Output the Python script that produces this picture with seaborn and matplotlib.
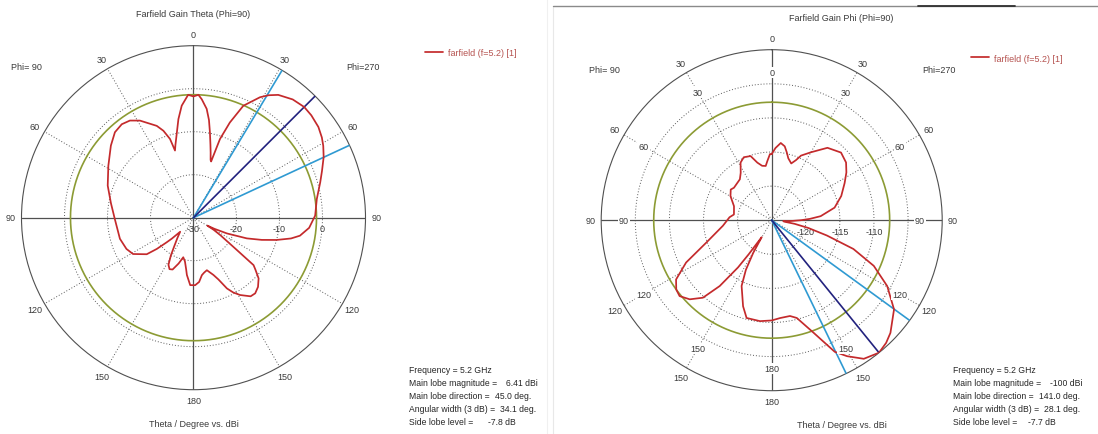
import numpy as np
import matplotlib
matplotlib.use("Agg")
import matplotlib.pyplot as plt
from matplotlib.lines import Line2D
import seaborn as sns

# ---- Farfield gain, Theta component, cut Phi=90 (dBi) ----
# angle: clockwise from the top, 0..180 on the Phi=270 side, 180..360 on the Phi=90 side
theta_cut_angle = [
    0, 2.3, 4, 6.9, 9, 10.9, 13, 14.7, 16.5, 17.4, 18.2, 18.6, 20.9, 24, 28.9, 31.5, 34.6,
    40, 45, 49, 54, 58, 61, 65, 70, 74.4, 81.4, 89, 95, 99.6, 102, 105, 108, 111.2, 115.2,
    118, 119.7, 121, 123, 126.7, 128.3, 130, 133, 137, 140.8, 144, 148.9, 152, 154.7, 158,
    160.8, 165.7, 169, 171.7, 175, 178.6, 182.8, 186.6, 188, 191, 194.5, 198, 202, 205,
    208, 211, 214, 218.5, 223.5, 226, 227.5, 229.6, 232, 239, 245, 254, 269, 280, 290.5,
    301.4, 311.1, 317.4, 322.5, 326.8, 331.1, 338.2, 340.9, 343.4, 344.6, 346, 347.5,
    351.3, 354, 357.5, 360,
]
theta_cut_gain = [
    -1.8, -1.4, -2.4, -4.5, -7.0, -9.8, -12.5, -14.3, -16.0, -16.3, -13.0, -10.7, -6.3,
    -1.5, 2.0, 3.4, 4.7, 5.9, 6.41, 6.3, 5.9, 5.2, 4.5, 3.4, 1.8, 0.6, -1.0, -1.7, -3.0,
    -4.9, -6.8, -10.0, -13.3, -16.7, -21.4, -24.5, -26.3, -24.5, -22.6, -17.4, -12.2,
    -11.2, -9.3, -8.0, -7.3, -7.4, -9.0, -10.3, -11.8, -14.5, -15.9, -17.4, -17.0, -16.5,
    -15.0, -14.3, -14.3, -16.6, -17.8, -19.6, -20.5, -18.8, -17.0, -16.8, -17.6, -19.8,
    -22.0, -24.0, -25.5, -23.0, -21.5, -18.8, -16.2, -13.6, -12.8, -12.2, -11.7, -10.5,
    -8.7, -6.8, -4.5, -3.0, -2.6, -3.0, -4.2, -7.0, -8.6, -10.9, -13.8, -12.6, -11.3,
    -6.8, -3.8, -1.4, -1.8,
]

# ---- Farfield gain, Phi component, cut Phi=90 (dBi) ----
phi_cut_angle = [
    0, 3, 6.7, 10, 12.5, 15, 19, 22, 24.4, 30, 37.6, 45.7, 52.2, 57.4, 63, 70.8, 78.7,
    85.3, 88, 90, 92.5, 95, 97, 99, 102, 105.5, 109.4, 114.1, 119.7, 126.1, 133.5, 137,
    141, 146.4, 151, 154.4, 159.6, 165.6, 169.2, 175.1, 180, 186.6, 194.4, 198.4, 204.6,
    207.5, 209.5, 210.5, 212.5, 214, 215.5, 218.3, 221.6, 226, 230.5, 234, 238.2, 243.7,
    251.2, 263.5, 274, 278.6, 284, 290.4, 300.3, 306.8, 310.7, 316, 322.1, 326.8, 331.6,
    336.1, 341.8, 346, 350, 353.7, 355.8, 358.5, 360,
]
phi_cut_gain = [
    -115.3, -114.4, -113.6, -114.0, -114.8, -115.6, -116.2, -115.5, -114.6, -113.5,
    -111.6, -110.8, -111.2, -112.0, -113.0, -114.2, -115.6, -117.8, -119.4, -120.7,
    -122.2, -123.3, -123.0, -121.6, -119.5, -116.6, -112.3, -108.6, -105.5, -102.8,
    -101.0, -100.4, -100.0, -100.6, -102.2, -103.6, -107.4, -110.2, -110.7, -110.6,
    -110.3, -110.1, -110.2, -111.7, -114.4, -116.8, -119.5, -122.1, -121.0, -119.0,
    -116.5, -112.7, -109.8, -108.3, -107.5, -107.7, -108.5, -111.0, -114.9, -117.8,
    -118.8, -119.4, -119.3, -119.1, -118.0, -117.5, -117.7, -117.6, -117.4, -116.7,
    -115.4, -114.9, -115.1, -116.3, -116.9, -117.0, -116.3, -115.3, -115.3,
]

# summary figures printed under each chart
theta_main_lobe = 6.41
theta_main_dir = 45.0
theta_width = 34.1
theta_side_lobe = -7.8
theta_beam_edges = [31.0, 65.1]

phi_main_lobe = -100.0
phi_main_dir = 141.0
phi_width = 28.1
phi_side_lobe = -7.7
phi_beam_edges = [126.0, 154.1]

# scales and tick labels
theta_rlim = (-30, 10)
theta_rings = [-20, -10, 0]
theta_ring_labels = [-30, -20, -10, 0]
phi_rlim = (-125, -100)
phi_rings = [-120, -115, -110, -105]
phi_ring_labels = [-120, -115, -110]
angle_ticks = [0, 30, 60, 90, 120, 150, 180, 210, 240, 270, 300, 330]

W, H = 1098, 435
RED = "#c42a2c"
GREEN = "#8c9b34"
LIGHT_BLUE = "#2f9ad2"
NAVY = "#22227e"
GRID = "#5a5a5a"
TXT = "#3a3a3a"
FS = 6.5
FS_INFO = 6.2

sns.set_style("white")
plt.rcParams["font.family"] = ["Liberation Sans", "DejaVu Sans"]

fig = plt.figure(figsize=(W / 100, H / 100), dpi=100)
fig.patch.set_facecolor("white")


def fx(px):
    return px / W


def fy(py):
    return 1 - py / H


def polar_axes(cx, cy, radius):
    ax = fig.add_axes([fx(cx - radius), fy(cy + radius), 2 * radius / W, 2 * radius / H],
                      projection="polar")
    ax.set_theta_zero_location("N")
    ax.set_theta_direction(-1)
    ax.grid(False)
    ax.set_xticks([])
    ax.set_yticks([])
    ax.set_facecolor("none")
    ax.spines["polar"].set_color("#505050")
    ax.spines["polar"].set_linewidth(0.8)
    return ax


def angle_text(a):
    return str(a if a <= 180 else 360 - a)


def draw_panel(ax, angles, gains, rlim, rings, main, direction, edges, side_lobe, label_r):
    rmin, rmax = rlim
    ax.set_ylim(rmin, rmax)
    t = np.linspace(0, 2 * np.pi, 721)
    for r in rings:
        ax.plot(t, np.full_like(t, r), ls=(0, (1, 2)), color=GRID, lw=0.7, zorder=1)
    for a in angle_ticks:
        if a % 90:
            ax.plot([np.deg2rad(a)] * 2, [rmin, rmax], ls=(0, (1, 2)), color=GRID, lw=0.7, zorder=1)
        else:
            ax.plot([np.deg2rad(a)] * 2, [rmin, rmax], color="#505050", lw=0.9, zorder=1)
    # side lobe threshold circle
    ax.plot(t, np.full_like(t, main + side_lobe), color=GREEN, lw=1.2, zorder=2)
    # half-power and main lobe direction markers
    for e in edges:
        ax.plot([np.deg2rad(e)] * 2, [rmin, rmax], color=LIGHT_BLUE, lw=1.2, zorder=3)
    ax.plot([np.deg2rad(direction)] * 2, [rmin, rmax], color=NAVY, lw=1.2, zorder=3)
    sns.lineplot(x=np.deg2rad(angles), y=gains, ax=ax, sort=False, estimator=None,
                 color=RED, lw=1.25, zorder=4, label="farfield (f=5.2) [1]")
    ax.set_xlabel("")
    ax.set_ylabel("")
    for a in angle_ticks:
        ax.text(np.deg2rad(a), label_r, angle_text(a), ha="center", va="center",
                fontsize=FS, color=TXT, clip_on=False)
    return ax


# ---------------- left: Theta component ----------------
axL = polar_axes(193.5, 218.7, 172)
draw_panel(axL, theta_cut_angle, theta_cut_gain, theta_rlim, theta_rings,
           theta_main_lobe, theta_main_dir, theta_beam_edges, theta_side_lobe, 12.6)
for v in theta_ring_labels:
    axL.annotate(str(v), xy=(np.pi / 2, v), xytext=(0, -8), textcoords="offset points",
                 ha="center", va="center", fontsize=FS, color=TXT, annotation_clip=False)
axL.legend(loc="center left", bbox_to_anchor=(fx(425), fy(54)), bbox_transform=fig.transFigure,
           frameon=False, fontsize=FS, handlelength=2.0, handletextpad=0.6, borderpad=0,
           borderaxespad=0, labelcolor="#b5524f")

# ---------------- right: Phi component ----------------
axR = polar_axes(771.7, 221.2, 170.5)
draw_panel(axR, phi_cut_angle, phi_cut_gain, phi_rlim, phi_rings,
           phi_main_lobe, phi_main_dir, phi_beam_edges, phi_side_lobe, -98.4)
for a in angle_ticks:
    axR.text(np.deg2rad(a), -103.3, angle_text(a), ha="center", va="center", fontsize=FS,
             color=TXT, zorder=5, bbox=dict(boxstyle="square,pad=0.12", fc="white", ec="none"))
for v in phi_ring_labels:
    axR.annotate(str(v), xy=(np.pi / 2, v), xytext=(0, -8), textcoords="offset points",
                 ha="center", va="center", fontsize=FS, color=TXT, annotation_clip=False)
axR.legend(loc="center left", bbox_to_anchor=(fx(971), fy(59)), bbox_transform=fig.transFigure,
           frameon=False, fontsize=FS, handlelength=2.0, handletextpad=0.6, borderpad=0,
           borderaxespad=0, labelcolor="#b5524f")

# ---------------- titles and captions ----------------
fig.text(fx(193.5), fy(14.5), "Farfield Gain Theta (Phi=90)", ha="center", va="center", fontsize=FS, color=TXT)
fig.text(fx(841), fy(18.5), "Farfield Gain Phi (Phi=90)", ha="center", va="center", fontsize=FS, color=TXT)
fig.text(fx(193.7), fy(425), "Theta / Degree vs. dBi", ha="center", va="center", fontsize=FS, color=TXT)
fig.text(fx(842), fy(425.5), "Theta / Degree vs. dBi", ha="center", va="center", fontsize=FS, color=TXT)
for x, y, s in [(26.7, 67.7, "Phi= 90"), (362.8, 67.7, "Phi=270"),
                (604.5, 70.7, "Phi= 90"), (939, 70.7, "Phi=270")]:
    fig.text(fx(x), fy(y), s, ha="center", va="center", fontsize=FS, color=TXT)

# ---------------- result summaries ----------------
info_rows = [371, 384, 397, 410, 423]
info_names = ["Frequency = 5.2 GHz", "Main lobe magnitude =", "Main lobe direction =",
              "Angular width (3 dB) =", "Side lobe level ="]
theta_info = [None, f"{theta_main_lobe:.2f} dBi", f"{theta_main_dir:.1f} deg.",
              f"{theta_width:.1f} deg.", f"{theta_side_lobe:.1f} dB"]
phi_info = [None, f"{phi_main_lobe:.0f} dBi", f"{phi_main_dir:.1f} deg.",
            f"{phi_width:.1f} deg.", f"{phi_side_lobe:.1f} dB"]
theta_value_x = [None, 506, 482, 498, 488]
phi_value_x = [None, 1050, 1019, 1037, 1028]

renderer = fig.canvas.get_renderer()
for x0, vals, vx in [(409, theta_info, theta_value_x), (953, phi_info, phi_value_x)]:
    for y, name, val, x1 in zip(info_rows, info_names, vals, vx):
        t = fig.text(fx(x0), fy(y), name, ha="left", va="center", fontsize=FS_INFO, color="#262626")
        if val is not None:
            # keep the value clear of its caption
            right_edge = t.get_window_extent(renderer).x1
            xv = max(x1, right_edge + 5)
            fig.text(xv / W, fy(y), val, ha="left", va="center", fontsize=FS_INFO, color="#262626")

# panel frame lines
fig.add_artist(Line2D([fx(547), fx(547)], [0, 1], color="#f0f0f0", lw=0.8))
fig.add_artist(Line2D([fx(553), fx(553)], [0, fy(6.5)], color="#e8e8e8", lw=0.8))
fig.add_artist(Line2D([fx(553), 1], [fy(6.5), fy(6.5)], color="#8a8a8a", lw=1.0))
fig.add_artist(Line2D([fx(918), fx(1015)], [fy(6.5), fy(6.5)], color="#303030", lw=1.3))

fig.savefig("out.png", dpi=100, facecolor="white")
